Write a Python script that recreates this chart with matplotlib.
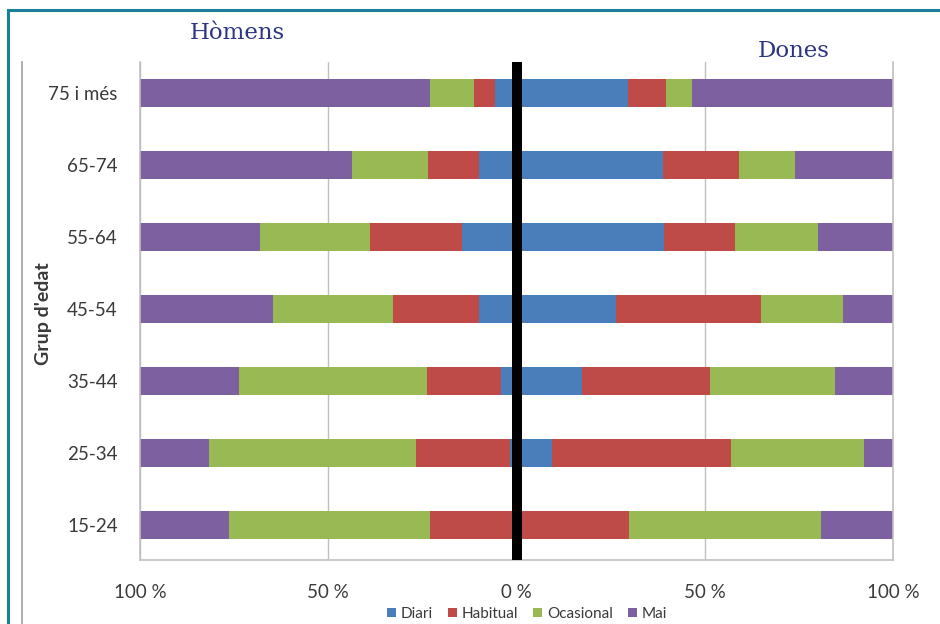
import matplotlib
matplotlib.use("Agg")
import matplotlib.pyplot as plt
import numpy as np
from matplotlib.lines import Line2D

# age groups, bottom to top
grups = ["15-24", "25-34", "35-44", "45-54", "55-64", "65-74", "75 i més"]
categories = ["Diari", "Habitual", "Ocasional", "Mai"]

# percentages per age group (men on the left, women on the right)
homes_diari = [0.5, 1.6, 4.1, 10.0, 14.4, 10.0, 5.6]
homes_habitual = [22.6, 25.2, 19.7, 22.8, 24.6, 13.5, 5.8]
homes_ocasional = [53.3, 54.8, 49.9, 31.9, 29.1, 20.2, 11.5]
homes_mai = [23.6, 18.4, 26.3, 35.3, 31.9, 56.3, 77.1]

dones_diari = [0.4, 9.5, 17.5, 26.5, 39.2, 38.9, 29.7]
dones_habitual = [29.5, 47.6, 33.8, 38.4, 18.9, 20.2, 10.1]
dones_ocasional = [51.0, 35.1, 33.4, 21.9, 22.0, 14.9, 6.9]
dones_mai = [19.1, 7.8, 15.3, 13.2, 19.9, 26.0, 53.3]

xticks = [-100, -50, 0, 50, 100]
xtick_labels = ["100 %", "50 %", "0 %", "50 %", "100 %"]

colors = ["#4a7ebb", "#be4b48", "#98b954", "#7d60a0"]
text_grey = "#3a3a3a"
grid_grey = "#c0c0c0"

W, H = 940, 624
fig = plt.figure(figsize=(W / 100, H / 100), dpi=100)
fig.patch.set_facecolor("white")

# plot area in pixel coords
left, right, top, bottom = 140, 893, 62, 560
ax = fig.add_axes([left / W, 1 - bottom / H, (right - left) / W, (bottom - top) / H])

y = np.arange(len(grups))
bar_h = 0.39

homes = [homes_diari, homes_habitual, homes_ocasional, homes_mai]
dones = [dones_diari, dones_habitual, dones_ocasional, dones_mai]

cum_h = np.zeros(len(grups))
cum_d = np.zeros(len(grups))
for serie_h, serie_d, color, label in zip(homes, dones, colors, categories):
    serie_h = np.array(serie_h)
    serie_d = np.array(serie_d)
    ax.barh(y, -serie_h, left=-cum_h, height=bar_h, color=color, zorder=2, label=label)
    ax.barh(y, serie_d, left=cum_d, height=bar_h, color=color, zorder=2)
    cum_h += serie_h
    cum_d += serie_d

# thick divider between men and women
ax.axvline(0, color="black", linewidth=7.2, zorder=3)

ax.set_xlim(-100, 100)
ax.set_ylim(-0.486, 6.43)
ax.set_xticks(xticks)
ax.set_xticklabels(xtick_labels)
ax.set_yticks(y)
ax.set_yticklabels(grups)
ax.tick_params(axis="both", length=0, labelsize=13.5, labelcolor=text_grey)
ax.tick_params(axis="x", pad=17)
ax.tick_params(axis="y", pad=16)
for lab in ax.get_xticklabels() + ax.get_yticklabels():
    lab.set_fontfamily("Lato")

ax.grid(axis="x", color=grid_grey, linewidth=1, zorder=0)
ax.spines["top"].set_visible(False)
for side in ["left", "right", "bottom"]:
    ax.spines[side].set_color(grid_grey)
    ax.spines[side].set_linewidth(1.2)

fig.text(43 / W, 1 - 314 / H, "Grup d'edat", rotation=90, ha="center", va="center",
         fontsize=14, fontweight="bold", color=text_grey, fontfamily="Lato")

# side titles
fig.text(237 / W, 1 - 39 / H, "Hòmens", ha="center", va="baseline",
         fontsize=16.5, color="#2b3580", fontfamily="DejaVu Serif")
fig.text(794 / W, 1 - 57 / H, "Dones", ha="center", va="baseline",
         fontsize=16.5, color="#2b3580", fontfamily="DejaVu Serif")

# legend along the bottom edge
leg = fig.legend(loc="center", bbox_to_anchor=(527 / W, 1 - 614 / H), ncol=4, frameon=False,
                 fontsize=11, handlelength=0.6, handleheight=0.6, handletextpad=0.3,
                 columnspacing=1.0, borderpad=0.1)
for t in leg.get_texts():
    t.set_color(text_grey)
    t.set_fontfamily("Lato")

# outer frame lines
teal = "#1a7f99"
fig.add_artist(Line2D([8 / W, 1], [1 - 10 / H, 1 - 10 / H], color=teal, linewidth=2.2))
fig.add_artist(Line2D([8 / W, 8 / W], [0, 1 - 10 / H], color=teal, linewidth=2.2))
fig.add_artist(Line2D([22 / W, 22 / W], [0, 1 - 62 / H], color="#a0a0a0", linewidth=1.2))

fig.savefig("out.png", dpi=100, facecolor="white")
